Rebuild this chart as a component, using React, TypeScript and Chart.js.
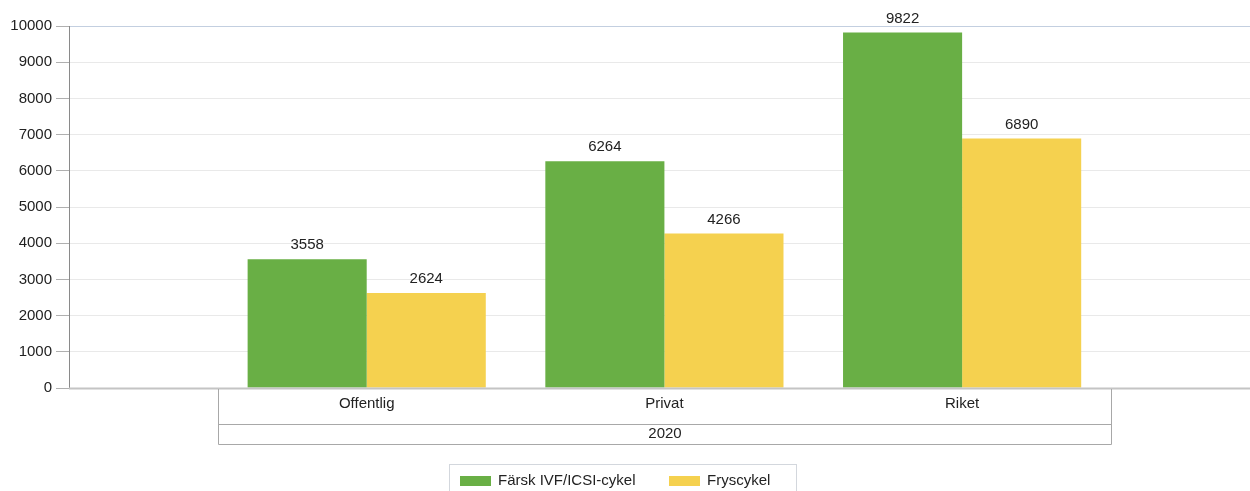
import React, { useEffect, useRef } from "react";
import { Chart, registerables } from "chart.js";

Chart.register(...registerables);

const categories = ["Offentlig", "Privat", "Riket"];
const groupLabel = "2020";
const seriesNames = ["Färsk IVF/ICSI-cykel", "Fryscykel"];
const freshValues = [3558, 6264, 9822];
const frozenValues = [2624, 4266, 6890];
const seriesColors = ["#69af45", "#f5d14f"];
const yTicks = [0, 1000, 2000, 3000, 4000, 5000, 6000, 7000, 8000, 9000, 10000];

const FONT = "'Liberation Sans', Arial, sans-serif";
const FS = 15;

const overlayPlugin = {
  id: "overlay",
  afterDatasetsDraw(chart: any) {
    const ctx = chart.ctx;
    const xs = chart.scales.x;
    const area = chart.chartArea;
    ctx.save();
    // value labels
    ctx.font = `${FS}px ${FONT}`;
    ctx.fillStyle = "#222";
    ctx.textAlign = "center";
    ctx.textBaseline = "middle";
    chart.data.datasets.forEach((ds: any, di: number) => {
      const meta = chart.getDatasetMeta(di);
      meta.data.forEach((bar: any, i: number) => {
        const v = ds.data[i].y;
        ctx.fillText(String(v), bar.x, bar.y - 14);
      });
    });
    // bottom axis line
    ctx.strokeStyle = "#c4c4c4";
    ctx.lineWidth = 2;
    ctx.beginPath();
    ctx.moveTo(area.left, area.bottom + 0.5);
    ctx.lineTo(area.right, area.bottom + 0.5);
    ctx.stroke();
    // table
    const l = Math.round(xs.getPixelForValue(-0.5)) + 0.5;
    const r = Math.round(xs.getPixelForValue(categories.length - 0.5)) + 0.5;
    const top = area.bottom + 1;
    const mid = top + 35;
    const bot = top + 55;
    ctx.strokeStyle = "#a8a8a8";
    ctx.lineWidth = 1;
    ctx.beginPath();
    ctx.moveTo(l, top);
    ctx.lineTo(l, bot + 0.5);
    ctx.lineTo(r, bot + 0.5);
    ctx.lineTo(r, top);
    ctx.moveTo(l, mid + 0.5);
    ctx.lineTo(r, mid + 0.5);
    ctx.stroke();
    ctx.fillStyle = "#222";
    categories.forEach((c, i) => {
      ctx.fillText(c, xs.getPixelForValue(i), top + 15);
    });
    ctx.fillText(groupLabel, (l + r) / 2, mid + 10);
    // legend
    ctx.strokeStyle = "#d3d7dd";
    ctx.strokeRect(449.5, 464.5, 347, 40);
    const items = [
      { x: 460, tx: 498 },
      { x: 669, tx: 707 },
    ];
    ctx.textAlign = "left";
    items.forEach((it, i) => {
      ctx.fillStyle = seriesColors[i];
      ctx.fillRect(it.x, 476, 31, 10);
      ctx.fillStyle = "#222";
      ctx.fillText(seriesNames[i], it.tx, 481);
    });
    ctx.restore();
  },
};

export default function App() {
  const ref = useRef<HTMLCanvasElement>(null);
  useEffect(() => {
    if (!ref.current) return;
    const chart = new Chart(ref.current, {
      type: "bar",
      data: {
        datasets: [
          {
            label: seriesNames[0],
            data: freshValues.map((v, i) => ({ x: i, y: v })),
            backgroundColor: seriesColors[0],
            borderWidth: 0,
          },
          {
            label: seriesNames[1],
            data: frozenValues.map((v, i) => ({ x: i, y: v })),
            backgroundColor: seriesColors[1],
            borderWidth: 0,
          },
        ],
      },
      options: {
        animation: false,
        responsive: false,
        maintainAspectRatio: false,
        devicePixelRatio: 1,
        layout: { padding: { top: 26, bottom: 103, left: 0, right: 0 } },
        datasets: { bar: { categoryPercentage: 0.8, barPercentage: 1.0 } },
        plugins: { legend: { display: false }, tooltip: { enabled: false } },
        scales: {
          x: {
            type: "linear",
            display: false,
            min: -1,
            max: 2.967,
            offset: false,
            afterBuildTicks: (s: any) => {
              s.ticks = categories.map((_, i) => ({ value: i }));
            },
            grid: { display: false },
          },
          y: {
            min: 0,
            max: 10000,
            afterBuildTicks: (s: any) => {
              s.ticks = yTicks.map((v) => ({ value: v }));
            },
            afterFit: (s: any) => {
              s.width = 69;
            },
            border: { display: true, color: "#8a8a8a", width: 1 },
            grid: {
              color: (c: any) => (c.tick && c.tick.value === 10000 ? "#c3cfe0" : "#e9e9e9"),
              tickColor: "#b0b0b0",
              tickLength: 13,
              lineWidth: 1,
            },
            ticks: {
              padding: 4,
              color: "#222",
              font: { family: FONT, size: FS },
              callback: (v: any) => String(v),
            },
          },
        },
      },
      plugins: [overlayPlugin],
    });
    return () => chart.destroy();
  }, []);
  return (
    <div style={{ position: "fixed", left: 0, top: 0, width: 1250, height: 491, background: "#fff" }}>
      <canvas ref={ref} width={1250} height={491} style={{ width: 1250, height: 491 }} />
    </div>
  );
}
